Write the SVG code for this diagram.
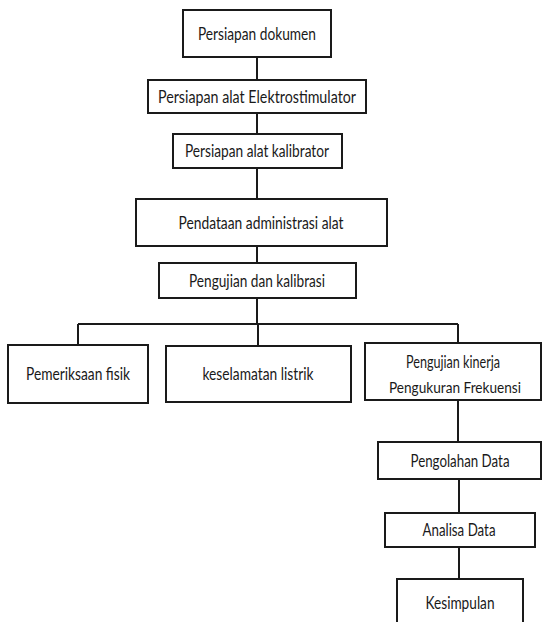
<svg xmlns="http://www.w3.org/2000/svg" width="543" height="622" viewBox="0 0 543 622">
<style>
.box{fill:#fff;stroke:#1a1a1a;stroke-width:2}
.lbl{font-family:Lato,"Liberation Sans",sans-serif;font-size:17px;fill:#1a1a1a;text-anchor:middle;dominant-baseline:central}
.sm{font-size:16px}
.ln{stroke:#1a1a1a;stroke-width:2;fill:none}
</style>
<rect width="543" height="622" fill="#fff"/>
<g id="connectors">
<path class="ln" d="M257 57V80M257 113V134M257 168V199M257 246V263M257 298V324M78 324H458M78 324V345M258 324V346M458 324V343M458 400V442M459 479V513M459 547V579"/>
</g>
<g id="n1"><rect class="box" x="183" y="10" width="148" height="47"/><text class="lbl" x="257" y="33" textLength="118" lengthAdjust="spacingAndGlyphs">Persiapan dokumen</text></g>
<g id="n2"><rect class="box" x="148" y="80" width="218" height="33"/><text class="lbl" x="257" y="96" textLength="198" lengthAdjust="spacingAndGlyphs">Persiapan alat Elektrostimulator</text></g>
<g id="n3"><rect class="box" x="173" y="134" width="169" height="34"/><text class="lbl" x="257" y="150.5" textLength="144" lengthAdjust="spacingAndGlyphs">Persiapan alat kalibrator</text></g>
<g id="n4"><rect class="box" x="136" y="199" width="251" height="47"/><text class="lbl" x="261" y="222" textLength="165" lengthAdjust="spacingAndGlyphs">Pendataan administrasi alat</text></g>
<g id="n5"><rect class="box" x="159" y="263" width="197" height="35"/><text class="lbl" x="257" y="280" textLength="136" lengthAdjust="spacingAndGlyphs">Pengujian dan kalibrasi</text></g>
<g id="n6"><rect class="box" x="8" y="345" width="140" height="58"/><text class="lbl" x="78" y="373.5" textLength="104" lengthAdjust="spacingAndGlyphs">Pemeriksaan fisik</text></g>
<g id="n7"><rect class="box" x="166" y="346" width="185" height="56"/><text class="lbl" x="258" y="373.5" textLength="111" lengthAdjust="spacingAndGlyphs">keselamatan listrik</text></g>
<g id="n8"><rect class="box" x="365" y="343" width="176" height="57"/><text class="lbl" x="453" y="361.5" textLength="94" lengthAdjust="spacingAndGlyphs">Pengujian kinerja</text><text class="lbl sm" x="455" y="386.5" textLength="132" lengthAdjust="spacingAndGlyphs">Pengukuran Frekuensi</text></g>
<g id="n9"><rect class="box" x="378" y="442" width="163" height="37"/><text class="lbl" x="460" y="460" textLength="99" lengthAdjust="spacingAndGlyphs">Pengolahan Data</text></g>
<g id="n10"><rect class="box" x="385" y="513" width="150" height="34"/><text class="lbl" x="459" y="529.5" textLength="73" lengthAdjust="spacingAndGlyphs">Analisa Data</text></g>
<g id="n11"><rect class="box" x="397" y="579" width="126" height="48"/><text class="lbl" x="460" y="602.5" textLength="69" lengthAdjust="spacingAndGlyphs">Kesimpulan</text></g>
</svg>
